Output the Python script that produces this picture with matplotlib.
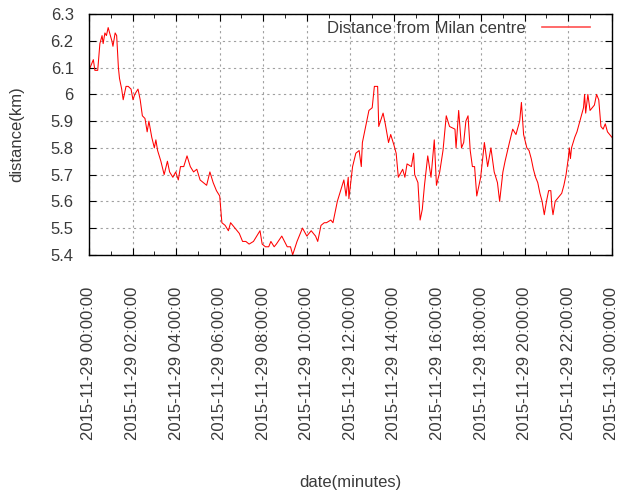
import matplotlib
matplotlib.use("Agg")
import matplotlib.pyplot as plt
import matplotlib.dates as mdates
from matplotlib.ticker import FuncFormatter, MultipleLocator
import pandas as pd

# hours after 2015-11-29 00:00:00 (10 per row)
hours = [0.0, 0.05, 0.2, 0.27, 0.4, 0.5, 0.6, 0.65, 0.73, 0.8,
         0.88, 1.05, 1.1, 1.2, 1.27, 1.35, 1.4, 1.5, 1.57, 1.7,
         1.8, 1.93, 2.02, 2.1, 2.25, 2.35, 2.45, 2.57, 2.67, 2.75,
         2.88, 3.0, 3.07, 3.15, 3.3, 3.45, 3.6, 3.7, 3.85, 3.98,
         4.1, 4.2, 4.35, 4.5, 4.65, 4.8, 4.95, 5.1, 5.25, 5.4,
         5.55, 5.7, 5.85, 6.0, 6.05, 6.1, 6.25, 6.4, 6.5, 6.7,
         6.9, 7.05, 7.2, 7.35, 7.55, 7.7, 7.85, 7.95, 8.1, 8.25,
         8.35, 8.5, 8.6, 8.85, 9.1, 9.25, 9.35, 9.55, 9.7, 9.8,
         10.0, 10.2, 10.4, 10.5, 10.65, 10.8, 10.9, 11.1, 11.2, 11.25,
         11.4, 11.55, 11.7, 11.8, 11.9, 11.93, 12.1, 12.25, 12.4, 12.5,
         12.55, 12.7, 12.85, 13.0, 13.1, 13.25, 13.3, 13.5, 13.6, 13.75,
         13.85, 14.0, 14.1, 14.2, 14.4, 14.5, 14.6, 14.8, 14.9, 14.95,
         15.1, 15.2, 15.3, 15.4, 15.55, 15.7, 15.85, 15.95, 16.1, 16.25,
         16.4, 16.55, 16.8, 16.85, 16.97, 17.1, 17.2, 17.3, 17.4, 17.5,
         17.6, 17.7, 17.8, 17.98, 18.15, 18.3, 18.45, 18.6, 18.75, 18.85,
         19.0, 19.1, 19.3, 19.45, 19.6, 19.77, 19.85, 19.95, 20.1, 20.2,
         20.3, 20.4, 20.5, 20.6, 20.7, 20.8, 20.9, 21.0, 21.1, 21.2,
         21.25, 21.3, 21.4, 21.5, 21.6, 21.7, 21.8, 21.9, 22.0, 22.05,
         22.1, 22.15, 22.3, 22.4, 22.5, 22.6, 22.7, 22.75, 22.8, 22.9,
         23.0, 23.1, 23.2, 23.3, 23.4, 23.5, 23.6, 23.7, 23.8, 23.9,
         24.0]
# distance from Milan centre in km
distance = [6.10, 6.10, 6.13, 6.09, 6.09, 6.19, 6.22, 6.19, 6.23, 6.22,
            6.25, 6.20, 6.18, 6.23, 6.22, 6.10, 6.06, 6.02, 5.98, 6.03,
            6.03, 6.02, 5.98, 6.00, 6.02, 5.98, 5.92, 5.91, 5.86, 5.90,
            5.84, 5.80, 5.83, 5.79, 5.75, 5.70, 5.75, 5.71, 5.69, 5.71,
            5.68, 5.73, 5.73, 5.77, 5.73, 5.71, 5.72, 5.68, 5.67, 5.66,
            5.71, 5.67, 5.64, 5.62, 5.57, 5.52, 5.51, 5.49, 5.52, 5.50,
            5.48, 5.45, 5.45, 5.44, 5.45, 5.47, 5.49, 5.44, 5.43, 5.43,
            5.45, 5.43, 5.44, 5.47, 5.43, 5.43, 5.40, 5.45, 5.48, 5.50,
            5.47, 5.49, 5.47, 5.45, 5.51, 5.52, 5.52, 5.53, 5.52, 5.54,
            5.60, 5.64, 5.68, 5.62, 5.69, 5.61, 5.73, 5.78, 5.79, 5.73,
            5.82, 5.88, 5.94, 5.95, 6.03, 6.03, 5.88, 5.93, 5.89, 5.82,
            5.85, 5.81, 5.78, 5.69, 5.72, 5.69, 5.74, 5.73, 5.78, 5.70,
            5.67, 5.53, 5.57, 5.66, 5.77, 5.69, 5.83, 5.66, 5.71, 5.79,
            5.92, 5.88, 5.87, 5.80, 5.94, 5.80, 5.82, 5.90, 5.92, 5.79,
            5.73, 5.73, 5.62, 5.69, 5.82, 5.73, 5.80, 5.71, 5.67, 5.60,
            5.71, 5.75, 5.82, 5.87, 5.85, 5.90, 5.97, 5.85, 5.80, 5.79,
            5.76, 5.72, 5.69, 5.67, 5.63, 5.60, 5.55, 5.60, 5.64, 5.64,
            5.58, 5.55, 5.60, 5.61, 5.62, 5.63, 5.66, 5.70, 5.76, 5.80,
            5.76, 5.80, 5.84, 5.86, 5.89, 5.92, 5.95, 6.00, 5.93, 6.00,
            5.94, 5.95, 5.96, 6.00, 5.98, 5.88, 5.87, 5.89, 5.86, 5.85,
            5.84]

start = pd.Timestamp("2015-11-29 00:00:00")
times = [start + pd.Timedelta(hours=h) for h in hours]

plt.rcParams['font.family'] = ['Liberation Sans', 'DejaVu Sans']

fig = plt.figure(figsize=(6.18, 4.9), dpi=100)
ax = fig.add_axes([0.144, 0.480, 0.846, 0.491])

ax.plot(times, distance, color="red", linewidth=0.75, label="Distance from Milan centre")

ax.set_xlim(start, start + pd.Timedelta(hours=24))
ax.set_ylim(5.4, 6.3)

ax.xaxis.set_major_locator(mdates.HourLocator(byhour=range(0, 24, 2)))
ax.xaxis.set_minor_locator(mdates.HourLocator())
ax.xaxis.set_major_formatter(mdates.DateFormatter("%Y-%m-%d %H:%M:%S"))
ax.yaxis.set_major_locator(MultipleLocator(0.1))
ax.yaxis.set_major_formatter(FuncFormatter(lambda v, p: "%g" % round(v, 2)))

ax.tick_params(axis="both", which="both", direction="in", top=True, right=True,
               labelsize=12, labelcolor="#3a3a3a")
ax.tick_params(axis="both", which="major", length=5)
ax.tick_params(axis="x", which="minor", length=3)
ax.tick_params(axis="x", which="major", pad=23)
ax.tick_params(axis="y", which="major", pad=11)
plt.setp(ax.get_xticklabels(), rotation=90, ha="center", va="top")

ax.grid(True, which="major", color="#a0a0a0", linestyle=(0, (2, 3)), linewidth=0.8)
for s in ax.spines.values():
    s.set_linewidth(1.0)

ax.set_xlabel("date(minutes)", fontsize=12, color="#3a3a3a", labelpad=25)
ax.set_ylabel("distance(km)", fontsize=12, color="#3a3a3a", labelpad=19)

leg = ax.legend(loc="upper right", bbox_to_anchor=(1.0, 1.062), frameon=False,
                markerfirst=False, fontsize=12, handlelength=2.9,
                handletextpad=1.0, borderaxespad=0.9, labelcolor="#3a3a3a")
for line in leg.get_lines():
    line.set_color("#ff5050")
    line.set_linewidth(1.2)

fig.savefig("out.png", dpi=100)
